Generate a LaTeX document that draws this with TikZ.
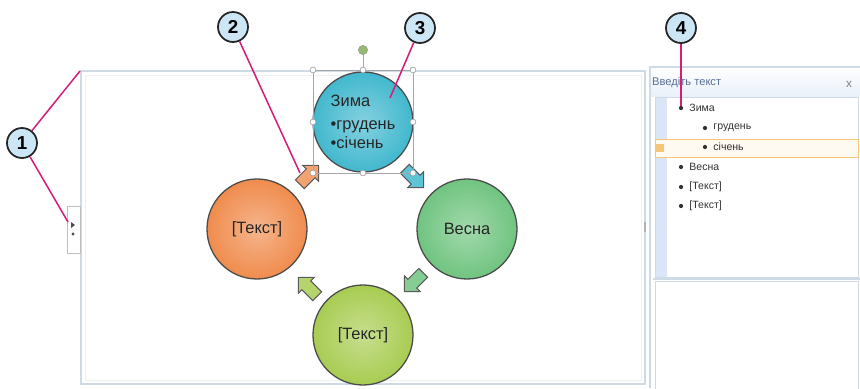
\documentclass[tikz,border=0pt]{standalone}
\usepackage{fontspec}
\setmainfont{Liberation Sans}
\usetikzlibrary{shapes.arrows, positioning, calc}

\definecolor{zimaBlue}{RGB}{66,184,206}
\definecolor{tekstOrange}{RGB}{240,140,78}
\definecolor{vesnaGreen}{RGB}{112,196,128}
\definecolor{tekstLime}{RGB}{168,204,82}
\definecolor{frameGray}{RGB}{206,219,230}
\definecolor{calloutBlue}{RGB}{204,230,246}
\definecolor{calloutPink}{RGB}{214,30,120}
\definecolor{paneTitle}{RGB}{88,110,150}
\definecolor{stripBlue}{RGB}{218,230,246}
\definecolor{rowOrange}{RGB}{244,198,118}
\definecolor{rotGreen}{RGB}{150,184,112}

\begin{document}
\begin{tikzpicture}[
    x=0.03cm, y=-0.03cm,
    stageNode/.style={circle, draw=black!70, line width=1.1pt, minimum size=3cm, inner sep=0pt,
        font=\fontsize{14}{16}\selectfont, align=left, text=black!85},
    cycleArrow/.style={single arrow, draw=black!65, line width=0.9pt, minimum height=0.8cm,
        inner sep=0.17cm, single arrow head extend=0.15cm},
    calloutNode/.style={circle, draw=black!85, line width=1.5pt, fill=calloutBlue, minimum size=0.9cm,
        inner sep=0pt, font=\fontsize{16}{16}\selectfont\bfseries},
    calloutLine/.style={draw=calloutPink, line width=1.3pt},
    handleNode/.style={circle, draw=black!40, fill=white, minimum size=5pt, inner sep=0pt, line width=0.5pt},
    bulletDot/.style={circle, fill=black!80, minimum size=3.6pt, inner sep=0pt},
    listItem/.style={font=\fontsize{9}{10}\selectfont, text=black!80, inner sep=0pt},
    selLine/.style={draw=black!35, line width=0.6pt}
]
    \useasboundingbox (0,0) rectangle (860,388);

    % Slide frame
    \draw[frameGray, line width=2.5pt] (81,71) rectangle (645,384);
    \draw[frameGray!40, line width=0.6pt] (85,75) rectangle (641,380);
    \coordinate (frameTL) at (80,71);
    \node[draw=black!25, fill=white, minimum width=11pt, minimum height=40pt, inner sep=0pt] (tab) at (74,230) {};
    \fill[black!70] (71,222) -- (75,225) -- (71,228) -- cycle;
    \fill[black!70] (73,234) circle (1.6);
    \coordinate (tabPoint) at (68,222);
    \fill[black!30] (644,222) rectangle (646,232);

    % Cycle stages
    \node[stageNode, inner color=zimaBlue!65!white, outer color=zimaBlue] (zima) at (363,122)
        {Зима\\[4pt]\textbullet грудень\\\textbullet січень};
    \node[stageNode, inner color=vesnaGreen!65!white, outer color=vesnaGreen, align=center] (vesna) at (467,229) {Весна};
    \node[stageNode, inner color=tekstLime!65!white, outer color=tekstLime, align=center] (tekstB) at (363,335) {[Текст]};
    \node[stageNode, inner color=tekstOrange!65!white, outer color=tekstOrange, align=center] (tekstL) at (257,229) {[Текст]};

    % Arrows between stages
    \node[cycleArrow, fill=tekstOrange!80!white, rotate=45] (arrLZ) at (307,177) {};
    \node[cycleArrow, fill=zimaBlue!85!white, rotate=-45] (arrZV) at (412,176) {};
    \node[cycleArrow, fill=vesnaGreen!85!white, rotate=-135] (arrVB) at (416,280) {};
    \node[cycleArrow, fill=tekstLime!85!white, rotate=135] (arrBL) at (310,289) {};

    % Selection box of the first stage
    \draw[selLine] (313,70) rectangle (413,173);
    \coordinate (selTop) at (363,70);
    \node[circle, draw=black!40, fill=rotGreen, minimum size=8pt, inner sep=0pt] (rot) at (363,50) {};
    \draw[selLine] (rot) -- (selTop);
    \foreach \hx/\hy in {313/70, 363/70, 413/70, 313/122, 413/122, 313/173, 363/173, 413/173}
        \node[handleNode] at (\hx,\hy) {};

    % Text pane
    \fill[white] (650,67) rectangle (860,388);
    \shade[top color=white, bottom color=stripBlue!60] (650,67) rectangle (860,96);
    \draw[frameGray, line width=1.2pt] (650,388) -- (650,67) -- (862,67);
    \node[anchor=west, font=\fontsize{9.5}{10}\selectfont, text=paneTitle, inner sep=0pt] (title) at (652,83) {Введіть текст};
    \node[font=\fontsize{10}{10}\selectfont, text=black!50, inner sep=0pt] (close) at (849,84) {x};
    \draw[frameGray, line width=0.8pt, fill=white] (655,97) rectangle (858,277);
    \fill[stripBlue] (655.5,97.5) rectangle (667,276.5);
    \draw[rowOrange, line width=0.8pt, fill=rowOrange!10] (655,139) rectangle (858,157);
    \fill[rowOrange] (656,144) rectangle (664,152);
    \draw[frameGray, line width=2pt] (653,279) -- (860,279);
    \draw[frameGray, line width=0.8pt] (655,281) rectangle (858,390);

    % Pane entries
    \node[bulletDot] (bZima) at (681,108) {};
    \node[listItem, right=5pt of bZima] {Зима};
    \node[bulletDot] (bGrud) at (705,128) {};
    \node[listItem, right=5pt of bGrud] {грудень};
    \node[bulletDot] (bSich) at (705,147) {};
    \node[listItem, right=5pt of bSich] {січень};
    \node[bulletDot] (bVesna) at (681,167) {};
    \node[listItem, right=5pt of bVesna] {Весна};
    \node[bulletDot] (bTek1) at (681,187) {};
    \node[listItem, right=5pt of bTek1] {[Текст]};
    \node[bulletDot] (bTek2) at (681,206) {};
    \node[listItem, right=5pt of bTek2] {[Текст]};

    % Callouts
    \node[calloutNode] (c1) at (22,143) {1};
    \node[calloutNode] (c2) at (233,27) {2};
    \node[calloutNode] (c3) at (420,28) {3};
    \node[calloutNode] (c4) at (681,28) {4};
    \coordinate (arrTip) at (300,173);
    \coordinate (zimaPoint) at (390,98);

    \draw[calloutLine] (c1) -- (frameTL);
    \draw[calloutLine] (c1) -- (tabPoint);
    \draw[calloutLine] (c2) -- (arrTip);
    \draw[calloutLine] (c3) -- (zimaPoint);
    \draw[calloutLine] (c4) -- (bZima);
\end{tikzpicture}
\end{document}
